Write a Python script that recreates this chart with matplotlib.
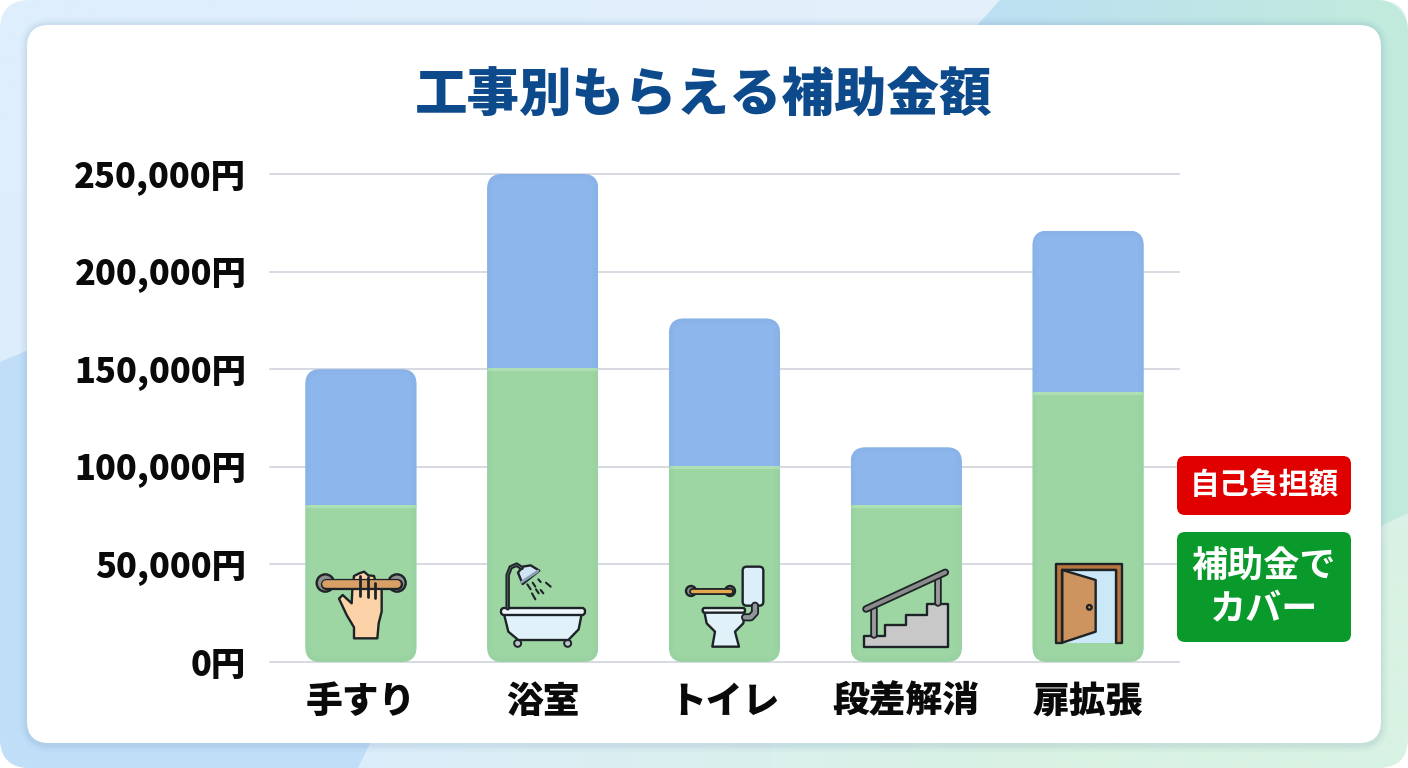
import numpy as np
import matplotlib
matplotlib.use("Agg")
import matplotlib.pyplot as plt
from matplotlib.patches import Circle, Ellipse, FancyBboxPatch, Polygon
from matplotlib.transforms import IdentityTransform

plt.rcParams["font.family"] = ["Noto Sans CJK JP", "DejaVu Sans"]

title = "工事別もらえる補助金額"
categories = ["手すり", "浴室", "トイレ", "段差解消", "扉拡張"]
subsidy = [80000, 150000, 100000, 80000, 138000]
self_pay = [70000, 100000, 76000, 30000, 83000]
y_ticks = [0, 50000, 100000, 150000, 200000, 250000]
y_labels = ["0円", "50,000円", "100,000円", "150,000円", "200,000円", "250,000円"]

W, H = 1408, 768
fig = plt.figure(figsize=(W / 100, H / 100), dpi=100, facecolor="white")

# background and white panel, pixel coordinates
bg = fig.add_axes([0, 0, 1, 1], zorder=0)
bg.set_xlim(0, W); bg.set_ylim(H, 0); bg.axis("off")


def rbox(ax, x0, y0, x1, y1, r, **kw):
    p = FancyBboxPatch((x0, y0), x1 - x0, y1 - y0,
                       boxstyle=f"round,pad=0,rounding_size={r}", **kw)
    ax.add_patch(p)
    return p


outer = rbox(bg, 0, 0, W, H, 30, fc="none", ec="none")
base = np.zeros((2, 2, 3))
base[0, 0] = matplotlib.colors.to_rgb("#deeefc")
base[0, 1] = matplotlib.colors.to_rgb("#e4f1fb")
base[1, 0] = matplotlib.colors.to_rgb("#dcedfb")
base[1, 1] = matplotlib.colors.to_rgb("#d8f2e3")
im = bg.imshow(base, extent=(0, W, H, 0), aspect="auto", interpolation="bilinear", zorder=0)
im.set_clip_path(outer)

# top right band, rounded outer corner written into its outline
arc = np.linspace(-np.pi / 2, 0, 12)
corner = [(W - 30 + 30 * np.cos(t), 30 + 30 * np.sin(t)) for t in arc]
top_right = Polygon([(1000, 0)] + corner + [(W, 513), (1381, 526), (1300, 560), (900, 110)],
                    transform=bg.transData, fc="none", ec="none")
bg.add_patch(top_right)
c0, c1 = np.array(matplotlib.colors.to_rgb("#bbddf7")), np.array(matplotlib.colors.to_rgb("#c2ebdc"))
t = np.linspace(0, 1, 256)[None, :, None]
band = bg.imshow(c0 + (c1 - c0) * t, extent=(900, W, 560, 0), aspect="auto", zorder=1)
band.set_clip_path(top_right)

bottom_left = Polygon([(0, 362), (100, 320), (420, 640), (358, H), (0, H)],
                      transform=bg.transData, fc="#c0def7", ec="none", zorder=1)
bg.add_patch(bottom_left)
bottom_left.set_clip_path(rbox(bg, 0, 0, W, H, 30, fc="none", ec="none"))
for lw, a in [(10, 0.03), (6, 0.04), (3, 0.05)]:
    rbox(bg, 27, 25, 1381, 745, 22, fc="none", ec="#3f6f9f", lw=lw, alpha=a, zorder=2)
rbox(bg, 27, 25, 1381, 743, 22, fc="white", ec="none", zorder=3)
bg.set_xlim(0, W); bg.set_ylim(H, 0)

# chart
ax = fig.add_axes([270 / W, (H - 662) / H, 909 / W, 488 / H], zorder=1)
ax.patch.set_alpha(0)
x = np.arange(len(categories))
ax.set_xlim(-0.5, 4.5)
ax.set_ylim(0, 250000)
for s in ax.spines.values():
    s.set_visible(False)
ax.set_axisbelow(True)
ax.grid(axis="y", color="#cdd0da", lw=1.1)
for gl in ax.get_ygridlines():
    gl.set_clip_on(False)
ax.set_yticks(y_ticks, y_labels, fontsize=24.8, fontweight=900, color="#0a0a0a", va="center_baseline")
ax.set_xticks(x, categories, fontsize=26.5, fontweight=900, color="#0a0a0a")
ax.tick_params(axis="y", length=0, pad=17)
ax.tick_params(axis="x", length=0, pad=15)

BAR_W = 0.612
R = 15
green_bars = ax.bar(x, subsidy, BAR_W, color="#9dd6a3", zorder=3)
blue_bars = ax.bar(x, self_pay, BAR_W, bottom=subsidy, color="#8cb6ec", zorder=3)
for g, b, v in zip(green_bars, blue_bars, subsidy):
    (x0, y0), (x1, y1) = ax.transData.transform([(g.get_x(), 0), (g.get_x() + g.get_width(), b.get_y() + b.get_height())])
    clip = FancyBboxPatch((x0, y0), x1 - x0, y1 - y0, boxstyle=f"round,pad=0,rounding_size={R}",
                          transform=IdentityTransform(), fc="none", ec="none")
    g.set_clip_path(clip)
    b.set_clip_path(clip)
    strip = ax.hlines(v, g.get_x(), g.get_x() + g.get_width(), color="#aee0b4", lw=2.2, zorder=4)
    strip.set_clip_path(clip)
    for lw, a in [(8, 0.015), (4, 0.02)]:
        edge = FancyBboxPatch((x0, y0), x1 - x0, y1 - y0, boxstyle=f"round,pad=0,rounding_size={R}",
                              transform=IdentityTransform(), fc="none", ec="#2f6f8f", lw=lw, alpha=a, zorder=4)
        ax.add_artist(edge)
        edge.set_clip_path(clip)

# title, legend and icons, pixel coordinates
ov = fig.add_axes([0, 0, 1, 1], zorder=2)
ov.set_xlim(0, W); ov.set_ylim(H, 0); ov.axis("off")
ov.text(704, 96, title, ha="center", va="center", fontsize=37.8, fontweight=900, color="#0d4a8c")

rbox(ov, 1177, 456, 1351, 515, 8, fc="#e00000", ec="none")
rbox(ov, 1177, 532, 1351, 642, 8, fc="#0a9a2b", ec="none")
ov.text(1264, 485, "自己負担額", ha="center", va="center", fontsize=21.5, fontweight="bold", color="white")
ov.text(1264, 567, "補助金で", ha="center", va="center", fontsize=26, fontweight="bold", color="white")
ov.text(1264, 610, "カバー", ha="center", va="center", fontsize=26, fontweight="bold", color="white")

INK = "#1d2326"
LW = 1.7


def zm(pts, ox, oy):
    return [(ox + a / 3, oy + b / 3) for a, b in pts]


def poly(pts, ox, oy, fc, lw=LW):
    ov.add_patch(Polygon(zm(pts, ox, oy), closed=True, fc=fc, ec=INK, lw=lw, joinstyle="round"))


def stroke(pts, ox, oy, color, w=LW):
    xs, ys = zip(*zm(pts, ox, oy))
    ov.plot(xs, ys, color=color, lw=w, solid_capstyle="round", solid_joinstyle="round")


def tube(pts, ox, oy, color, w):
    stroke(pts, ox, oy, INK, w + 2.6)
    stroke(pts, ox, oy, color, w)


def ring(cx, cy, r, ox, oy, fc="#8f8f8f"):
    (a, b), = zm([(cx, cy)], ox, oy)
    ov.add_patch(Circle((a, b), r / 3, fc=fc, ec=INK, lw=LW))


# handrail with hand
ox, oy = 290, 540
ring(106, 129, 26, ox, oy)
ring(321, 129, 26, ox, oy)
tube([(108, 131), (320, 131)], ox, oy, "#d9a066", 5.5)
poly([(192, 295), (262, 295), (266, 250), (275, 215), (275, 135), (258, 130), (252, 108), (235, 106),
      (222, 95), (208, 100), (192, 108), (187, 150), (185, 190), (158, 165), (147, 176), (170, 225), (192, 262)],
     ox, oy, "#fcd3a8")
stroke([(211, 108), (211, 168)], ox, oy, INK, 2)
stroke([(233, 110), (233, 170)], ox, oy, INK, 2)
stroke([(254, 130), (254, 175)], ox, oy, INK, 2)

# bathtub with shower
tube([(653, 205), (653, 105), (662, 82), (680, 74), (695, 84)], ox, oy, "#5c6b70", 0.6)
poly([(684, 98), (698, 80), (722, 76), (748, 92), (698, 132)], ox, oy, "#cfe4f2")
stroke([(694, 127), (744, 93)], ox, oy, "#8b9fb5", 2)
for p, q in [((712, 133), (722, 148)), ((728, 128), (736, 140)), ((745, 118), (752, 126)),
             ((768, 128), (782, 140)), ((738, 148), (746, 160)), ((726, 160), (736, 178)),
             ((752, 150), (760, 160))]:
    stroke([p, q], ox, oy, INK, 1.5)
for a in (683, 833):
    (ca, cb), = zm([(a, 310)], ox, oy)
    ov.add_patch(Ellipse((ca, cb), 7, 7, fc="#bcc6cc", ec=INK, lw=1.4))
poly([(642, 222), (875, 222), (866, 268), (835, 300), (685, 300), (655, 275)], ox, oy, "#e1f1fa")
ov.add_patch(FancyBboxPatch((501, 608), 84, 7, boxstyle="round,pad=0,rounding_size=3", fc="#eef7fc", ec=INK, lw=LW))

# toilet with rail
ox, oy = 660, 540
ring(93, 153, 15, ox, oy)
ring(210, 153, 15, ox, oy)
tube([(95, 154), (210, 154)], ox, oy, "#e5a84f", 2.4)
tube([(285, 197), (285, 218), (272, 232), (255, 232)], ox, oy, "#8f9598", 3.2)
rbox(ov, 660 + 248 / 3, 540 + 80 / 3, 660 + 310 / 3, 540 + 197 / 3, 4, fc="#dceefa", ec=INK, lw=LW)
poly([(133, 215), (253, 215), (250, 250), (225, 275), (237, 320), (157, 320), (165, 275), (140, 250)], ox, oy, "#e1f1fa")
rbox(ov, 660 + 128 / 3, 540 + 204 / 3, 660 + 255 / 3, 540 + 218 / 3, 2, fc="#f2f8fc", ec=INK, lw=LW)

# stairs
poly([(612, 320), (612, 287), (675, 287), (675, 255), (738, 255), (738, 224), (800, 224), (800, 192),
      (865, 192), (865, 320)], ox, oy, "#c8c8c8")
tube([(643, 207), (643, 285)], ox, oy, "#9a9a9a", 2.8)
tube([(833, 118), (833, 190)], ox, oy, "#9a9a9a", 2.8)
tube([(618, 207), (856, 97)], ox, oy, "#8b8b8b", 2.8)

# door
ox, oy = 1030, 440
poly([(78, 610), (78, 372), (275, 372), (275, 610), (257, 610), (257, 390), (97, 390), (97, 610)], ox, oy, "#b5763f")
ov.add_patch(Polygon(zm([(97, 390), (257, 390), (257, 608), (97, 608)], ox, oy), fc="#cbe8f9", ec="none"))
stroke([(257, 390), (97, 390)], ox, oy, INK)
stroke([(257, 390), (257, 610)], ox, oy, INK)
poly([(97, 390), (197, 420), (197, 575), (97, 608)], ox, oy, "#cd9460")
ring(178, 502, 7, ox, oy, fc="#cd9460")

fig.savefig("out.png", dpi=100, facecolor="white")
